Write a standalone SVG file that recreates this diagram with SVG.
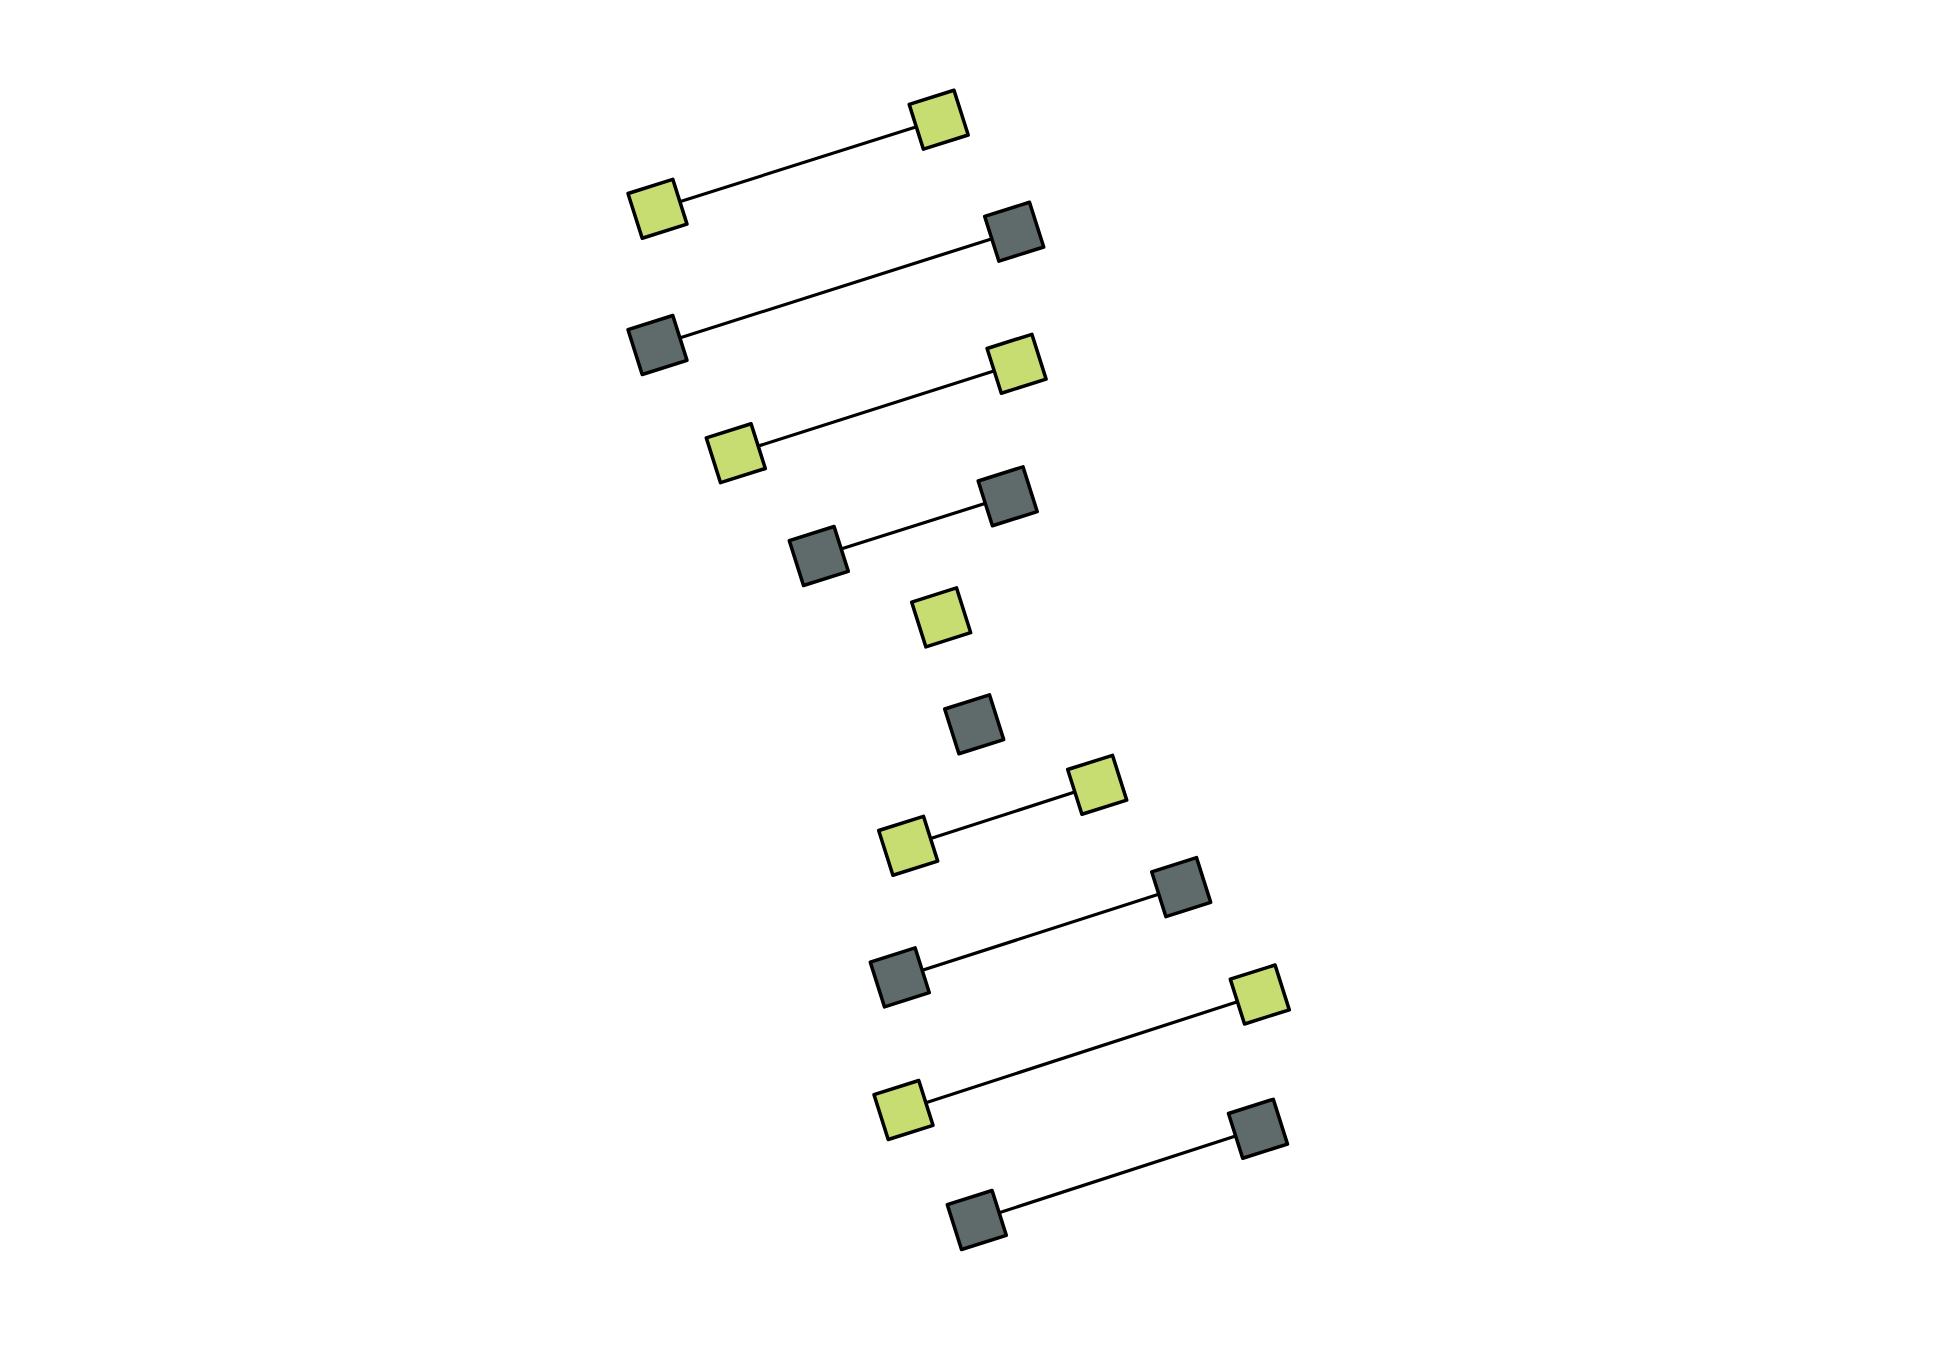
<svg xmlns="http://www.w3.org/2000/svg" width="1950" height="1350" viewBox="0 0 1950 1350">
<style>
.bg{fill:#ffffff}
.edge{stroke:#000000;stroke-width:3.2;fill:none}
.sq{stroke:#000000;stroke-width:3.5;stroke-linejoin:round}
.light{fill:#c7dd71}
.dark{fill:#5f6b6a}
</style>
<defs>
<rect id="box" x="-23.5" y="-23.5" width="47" height="47"/>
</defs>
<rect class="bg" x="0" y="0" width="1950" height="1350"/>
<g id="connectors">
<line class="edge" x1="657.5" y1="208.8" x2="938.7" y2="119.7"/>
<line class="edge" x1="657.5" y1="345" x2="1014.2" y2="231.7"/>
<line class="edge" x1="735.8" y1="453.2" x2="1016.6" y2="363.8"/>
<line class="edge" x1="818.8" y1="556" x2="1007.7" y2="496.3"/>
<line class="edge" x1="908.2" y1="845.8" x2="1097.2" y2="784.8"/>
<line class="edge" x1="899.8" y1="977.4" x2="1181.2" y2="887.1"/>
<line class="edge" x1="903.5" y1="1110" x2="1259.8" y2="994.5"/>
<line class="edge" x1="976.8" y1="1220" x2="1258" y2="1128.8"/>
</g>
<g id="n1L"><use href="#box" class="sq light" transform="translate(657.5 208.8) rotate(-17.6)"/></g>
<g id="n1R"><use href="#box" class="sq light" transform="translate(938.7 119.7) rotate(-17.6)"/></g>
<g id="n2L"><use href="#box" class="sq dark" transform="translate(657.5 345) rotate(-17.6)"/></g>
<g id="n2R"><use href="#box" class="sq dark" transform="translate(1014.2 231.7) rotate(-17.6)"/></g>
<g id="n3L"><use href="#box" class="sq light" transform="translate(735.8 453.2) rotate(-17.6)"/></g>
<g id="n3R"><use href="#box" class="sq light" transform="translate(1016.6 363.8) rotate(-17.6)"/></g>
<g id="n4L"><use href="#box" class="sq dark" transform="translate(818.8 556) rotate(-17.6)"/></g>
<g id="n4R"><use href="#box" class="sq dark" transform="translate(1007.7 496.3) rotate(-17.6)"/></g>
<g id="n5"><use href="#box" class="sq light" transform="translate(941.2 617.4) rotate(-17.6)"/></g>
<g id="n6"><use href="#box" class="sq dark" transform="translate(974.2 724.3) rotate(-17.6)"/></g>
<g id="n7L"><use href="#box" class="sq light" transform="translate(908.2 845.8) rotate(-17.6)"/></g>
<g id="n7R"><use href="#box" class="sq light" transform="translate(1097.2 784.8) rotate(-17.6)"/></g>
<g id="n8L"><use href="#box" class="sq dark" transform="translate(899.8 977.4) rotate(-17.6)"/></g>
<g id="n8R"><use href="#box" class="sq dark" transform="translate(1181.2 887.1) rotate(-17.6)"/></g>
<g id="n9L"><use href="#box" class="sq light" transform="translate(903.5 1110) rotate(-17.6)"/></g>
<g id="n9R"><use href="#box" class="sq light" transform="translate(1259.8 994.5) rotate(-17.6)"/></g>
<g id="n10L"><use href="#box" class="sq dark" transform="translate(976.8 1220) rotate(-17.6)"/></g>
<g id="n10R"><use href="#box" class="sq dark" transform="translate(1258 1128.8) rotate(-17.6)"/></g>
</svg>
